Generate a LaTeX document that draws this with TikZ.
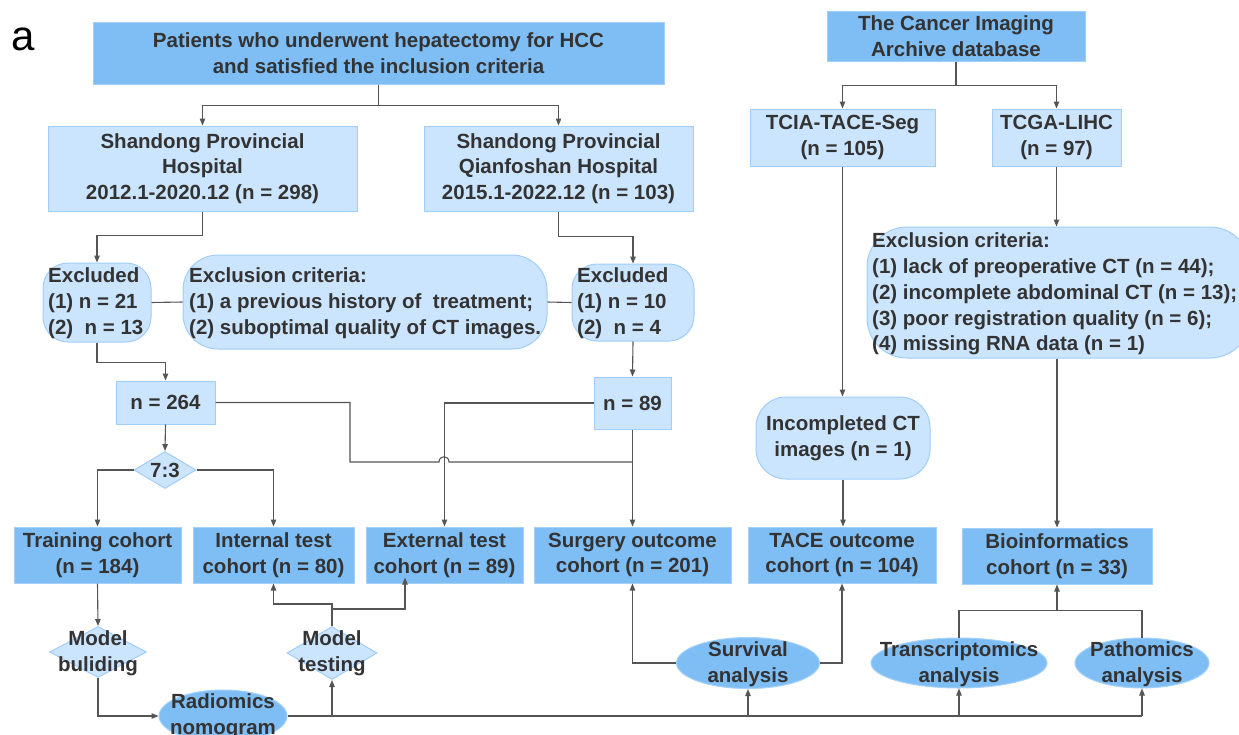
\documentclass[tikz,border=0pt]{standalone}
\usepackage{fontspec}
\setmainfont{Liberation Sans}
\usetikzlibrary{arrows.meta,shapes.geometric,calc}
\definecolor{darkb}{RGB}{126,190,245}
\definecolor{darkbd}{RGB}{165,208,247}
\definecolor{lightb}{RGB}{204,229,255}
\definecolor{lightbd}{RGB}{160,205,250}
\definecolor{txtc}{RGB}{51,51,51}
\definecolor{linec}{RGB}{85,85,85}
\begin{document}
\begin{tikzpicture}[x=1pt,y=-1pt,
  txt/.style={font=\bfseries\fontsize{20.5}{25.8}\selectfont, text=txtc, align=center, inner sep=0pt},
  dbox/.style={txt, rectangle, fill=darkb, draw=darkbd, line width=1pt},
  lbox/.style={txt, rectangle, fill=lightb, draw=lightbd, line width=1pt},
  rbox/.style={rectangle, fill=lightb, draw=lightbd, line width=1pt, inner sep=0pt},
  dia/.style={diamond, fill=lightb, draw=lightbd, line width=1pt, inner sep=0pt},
  ell/.style={ellipse, fill=darkb, draw=darkbd, line width=1pt, inner sep=0pt},
  line/.style={draw=linec, line width=1.1pt},
  arr/.style={line, -{Triangle[length=7pt,width=5.5pt]}}
]
\useasboundingbox (0,0) rectangle (1239,734);
\clip (0,0) rectangle (1239,734);

\node[font=\fontsize{42}{42}\selectfont, inner sep=0pt] (lbl) at (23,39) {a};

% top row
\node[dbox, minimum width=571pt, minimum height=62pt] (top) at (378.5,53) {Patients who underwent hepatectomy for HCC\\and satisfied the inclusion criteria};
\node[dbox, minimum width=258pt, minimum height=50pt] (db) at (956,36) {The Cancer Imaging\\Archive database};
\node[lbox, minimum width=309pt, minimum height=85pt] (sph) at (202.5,168.5) {Shandong Provincial\\Hospital\\2012.1-2020.12 (n = 298)};
\node[lbox, minimum width=269pt, minimum height=85pt] (spqh) at (558.5,168.5) {Shandong Provincial\\Qianfoshan Hospital\\2015.1-2022.12 (n = 103)};
\node[lbox, minimum width=185pt, minimum height=57pt] (seg) at (842.5,137.5) {TCIA-TACE-Seg\\(n = 105)};
\node[lbox, minimum width=129pt, minimum height=57pt] (tcga) at (1056.5,137.5) {TCGA-LIHC\\(n = 97)};

% exclusion row
\node[rbox, rounded corners=25pt, minimum width=108pt, minimum height=79pt] (exL) at (97,302.5) {};
\node[txt, anchor=west, align=left] (exLt) at (48,303) {Excluded\\(1) n = 21\\(2)\ \ n = 13};
\node[rbox, rounded corners=35pt, minimum width=364pt, minimum height=94pt] (crit) at (365,302) {};
\node[txt, anchor=west, align=left] (critt) at (189,303) {Exclusion criteria:\\(1) a previous history of\ \ treatment;\\(2) suboptimal quality of CT images.};
\node[rbox, rounded corners=25pt, minimum width=122pt, minimum height=77pt] (exR) at (633,302.5) {};
\node[txt, anchor=west, align=left] (exRt) at (577,303) {Excluded\\(1) n = 10\\(2)\ \ n = 4};
\node[rbox, rounded corners=40pt, minimum width=383pt, minimum height=131pt] (crit2) at (1058.5,292.5) {};
\node[txt, anchor=west, align=left] (crit2t) at (872,294) {Exclusion criteria:\\(1) lack of preoperative CT (n = 44);\\(2) incomplete abdominal CT (n = 13);\\(3) poor registration quality (n = 6);\\(4) missing RNA data (n = 1)};

% middle
\node[lbox, minimum width=99pt, minimum height=43pt] (n264) at (165.5,402.5) {n = 264};
\node[lbox, minimum width=77pt, minimum height=52pt] (n89) at (632.5,403) {n = 89};
\node[rbox, txt, rounded corners=30pt, fill=lightb, draw=lightbd, line width=1pt, minimum width=174pt, minimum height=82pt] (inc) at (843,438) {Incompleted CT\\images (n = 1)};
\node[dia, minimum width=62pt, minimum height=37pt] (r73) at (165,470) {};
\node[txt] (r73t) at (165,470) {7:3};

% cohorts
\node[dbox, minimum width=167pt, minimum height=56pt] (train) at (97.5,555) {Training cohort\\(n = 184)};
\node[dbox, minimum width=161pt, minimum height=56pt] (intl) at (273.5,555) {Internal test\\cohort (n = 80)};
\node[dbox, minimum width=157pt, minimum height=56pt] (extl) at (444.5,555) {External test\\cohort (n = 89)};
\node[dbox, minimum width=197pt, minimum height=56pt] (surg) at (632.5,555) {Surgery outcome\\cohort (n = 201)};
\node[dbox, minimum width=188pt, minimum height=56pt] (tace) at (842,555) {TACE outcome\\cohort (n = 104)};
\node[dbox, minimum width=190pt, minimum height=56pt] (bio) at (1057,556) {Bioinformatics\\cohort (n = 33)};

% bottom
\node[dia, minimum width=97pt, minimum height=51pt] (mb) at (98,652) {};
\node[txt] (mbt) at (98,653) {Model\\buliding};
\node[dia, minimum width=90pt, minimum height=53pt] (mt) at (332,653) {};
\node[txt] (mtt) at (332,653) {Model\\testing};
\node[ell, minimum width=128pt, minimum height=52pt] (rad) at (223,716) {};
\node[txt] (radt) at (223,716) {Radiomics\\nomogram};
\node[ell, minimum width=143pt, minimum height=51pt] (surv) at (748,663) {};
\node[txt] (survt) at (748,664) {Survival\\analysis};
\node[ell, minimum width=176pt, minimum height=50pt] (trans) at (959,663) {};
\node[txt] (transt) at (959,664) {Transcriptomics\\analysis};
\node[ell, minimum width=134pt, minimum height=50pt] (path) at (1142,663) {};
\node[txt] (patht) at (1142,664) {Pathomics\\analysis};

% connectors
\draw[arr] (top.south) -- ++(0,21) -| (sph.north);
\draw[arr] (top.south) -- ++(0,21) -| (spqh.north);
\draw[arr] (db.south) -- ++(0,24) -| (seg.north);
\draw[arr] (db.south) -- ++(0,24) -| (tcga.north);
\draw[arr] (sph.south) -- ++(0,24) -| (exL.north);
\draw[arr] (spqh.south) -- ++(0,25) -| (exR.north);
\draw[line] (exL.east) -- (crit.west);
\draw[line] (crit.east) -- (exR.west);
\draw[arr] (exL.south) -- ++(0,20) -| (n264.north);
\draw[arr] (exR.south) -- (n89.north);
\draw[arr] (n264.south) -- (r73.north);
\draw[arr] (r73.west) -| (train.north);
\draw[arr] (r73.east) -| (intl.north);
\draw[line] (n264.east) -| (350,462) -- (439,462) .. controls (439,455) and (449,455) .. (449,462) -- (n89.south |- 0,462);
\draw[arr] (n89.west) -| (extl.north);
\draw[arr] (n89.south) -- (surg.north);
\draw[arr] (seg.south) -- (seg.south |- inc.north);
\draw[arr] (inc.south) -- (inc.south |- tace.north);
\draw[arr] (tcga.south) -- (tcga.south |- crit2.north);
\draw[arr] (bio.north |- crit2.south) -- (bio.north);
\draw[arr] (train.south) -- (mb.north);
\draw[arr] (mb.south) |- (rad.west);
\draw[line] (rad.east) -- (rad.east -| path.south);
\draw[arr] (rad.east -| mt.south) -- (mt.south);
\draw[arr] (rad.east -| surv.south) -- (surv.south);
\draw[arr] (rad.east -| trans.south) -- (trans.south);
\draw[arr] (rad.east -| path.south) -- (path.south);
\draw[arr] (mt.north) -- ++(0,-22) -| (intl.south);
\draw[arr] (mt.north) -- ++(0,-17) -| ($(extl.south)+(-39.5,-6)$);
\draw[arr] (surv.west) -| (surg.south);
\draw[arr] (surv.east) -| (tace.south);
\draw[line] (trans.north) -- ++(0,-27) -| (path.north);
\draw[arr] (bio.south |- 0,611) -- (bio.south);
\end{tikzpicture}
\end{document}
